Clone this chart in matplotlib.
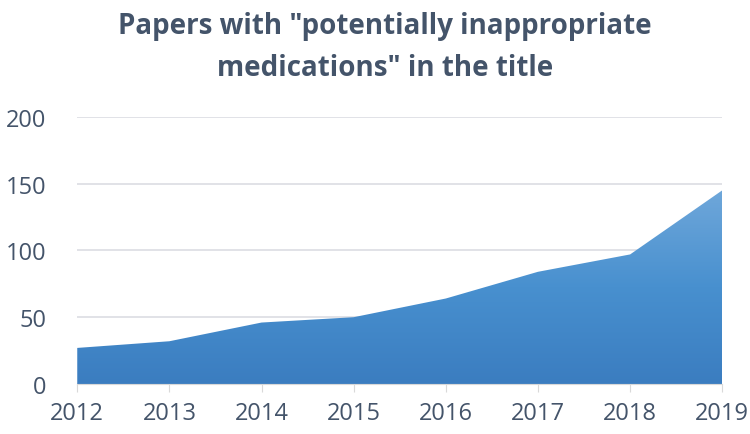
import numpy as np
import matplotlib.pyplot as plt
import matplotlib as mpl
from matplotlib.colors import LinearSegmentedColormap

mpl.rcParams['font.family'] = ['Open Sans', 'DejaVu Sans']

years = [2012, 2013, 2014, 2015, 2016, 2017, 2018, 2019]
papers = [27, 32, 46, 50, 64, 84, 97, 145]
yticks = [0, 50, 100, 150, 200]

text_color = '#44546a'

fig = plt.figure(figsize=(7.5, 4.35), dpi=100)
ax = fig.add_axes([0.103, 0.115, 0.86, 0.614])

poly = ax.fill_between(years, papers, 0, color='none', linewidth=0)

# vertical gradient, darker at the bottom
cmap = LinearSegmentedColormap.from_list('blu', ['#3b7dc0', '#4890cf', '#6fa7da'])
grad = np.linspace(0, 1, 256).reshape(-1, 1)
img = ax.imshow(grad, cmap=cmap, aspect='auto', origin='lower',
                extent=[years[0], years[-1], 0, max(papers)], zorder=2)
img.set_clip_path(poly.get_paths()[0], transform=ax.transData)

ax.set_xlim(years[0], years[-1])
ax.set_ylim(0, 200)
ax.set_xticks(years)
ax.set_yticks(yticks)
ax.grid(axis='y', color='#dcdde3', linewidth=1.2, zorder=0)
ax.set_axisbelow(True)

for s in ['top', 'right', 'left']:
    ax.spines[s].set_visible(False)
ax.spines['bottom'].set_color('#d9d9d9')
ax.spines['bottom'].set_zorder(3)

ax.tick_params(axis='y', length=0, pad=22, labelsize=17, labelcolor=text_color)
ax.tick_params(axis='x', length=6, color='#d9d9d9', pad=6, labelsize=17,
               labelcolor=text_color)

fig.suptitle('Papers with "potentially inappropriate\nmedications" in the title',
             x=0.513, y=0.972, fontsize=20, fontweight='bold', color=text_color,
             linespacing=1.6)

plt.savefig('out.png', dpi=100)
